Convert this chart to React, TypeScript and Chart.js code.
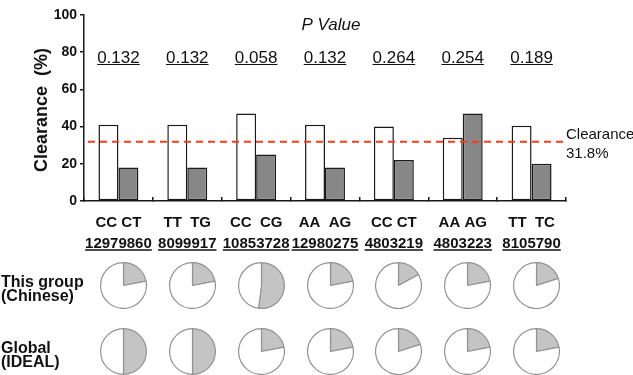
import React, { useEffect, useRef } from "react";
import { Chart, registerables } from "chart.js";

Chart.register(...registerables);

// SNP rs numbers, one group per SNP
const snpIds = ["12979860", "8099917", "10853728", "12980275", "4803219", "4803223", "8105790"];
// genotype pair for each SNP (homozygous / carrier)
const genotypePairs = ["CC CT", "TT  TG", "CC  CG", "AA  AG", "CC CT", "AA AG", "TT  TC"];
// P values shown above each group
const pValues = ["0.132", "0.132", "0.058", "0.132", "0.264", "0.254", "0.189"];
// clearance rate (%) for the first genotype (white bars)
const clearanceFirst = [41, 41, 47, 41, 40, 34, 40.5];
// clearance rate (%) for the second genotype (grey bars)
const clearanceSecond = [18, 18, 25, 18, 22, 47, 20];
// overall clearance rate (%)
const overallClearance = 31.8;
// y axis ticks
const yMin = 0;
const yMax = 100;
const yStep = 20;
// share (%) of the second genotype in this cohort and in the global cohort
const chineseShare = [22, 22, 52, 22, 17, 22, 20];
const globalShare = [50, 50, 22, 22, 20, 22, 22];
const pieRows = [
  { label: ["This group", "(Chinese)"], shares: chineseShare },
  { label: ["Global", "(IDEAL)"], shares: globalShare },
];

const FONT = "'Liberation Sans', Arial, Helvetica, sans-serif";
const INK = "#111111";
const W = 633;
const H = 375;
const PIE_SIZE = 47;
const PIE_ROW_Y = [285, 351];

function underlineText(ctx: CanvasRenderingContext2D, text: string, x: number, y: number, uy: number) {
  ctx.fillText(text, x, y);
  const w = ctx.measureText(text).width;
  ctx.beginPath();
  ctx.moveTo(x - w / 2, uy);
  ctx.lineTo(x + w / 2, uy);
  ctx.stroke();
}

const annotations = {
  id: "clearanceAnnotations",
  afterDraw(chart: any) {
    const { ctx, chartArea } = chart;
    const xs = chart.scales.x;
    const ys = chart.scales.y;
    ctx.save();

    // overall clearance reference line
    const yRef = ys.getPixelForValue(overallClearance);
    ctx.strokeStyle = "#ff3a1a";
    ctx.lineWidth = 2;
    ctx.setLineDash([7, 5]);
    ctx.beginPath();
    ctx.moveTo(chartArea.left + 4, yRef);
    ctx.lineTo(chartArea.right, yRef);
    ctx.stroke();
    ctx.setLineDash([]);

    ctx.fillStyle = INK;
    ctx.font = `15px ${FONT}`;
    ctx.textAlign = "left";
    ctx.textBaseline = "alphabetic";
    ctx.fillText("Clearance", chartArea.right, yRef - 3);
    ctx.fillText(`${overallClearance}%`, chartArea.right, yRef + 16);

    // P value header
    ctx.font = `italic 17px ${FONT}`;
    ctx.textAlign = "center";
    ctx.fillText("P Value", (chartArea.left + chartArea.right) / 2 + 6, 30);

    ctx.strokeStyle = INK;
    ctx.lineWidth = 1.2;
    ctx.font = `17px ${FONT}`;
    pValues.forEach((p, i) => {
      underlineText(ctx, p, xs.getPixelForValue(i), 62.5, 64.5);
    });

    // genotype and SNP labels under the axis
    ctx.font = `bold 15px ${FONT}`;
    genotypePairs.forEach((g, i) => {
      ctx.fillText(g, xs.getPixelForValue(i), 227);
    });
    ctx.lineWidth = 1.5;
    snpIds.forEach((s, i) => {
      underlineText(ctx, s, xs.getPixelForValue(i), 247.5, 250);
    });

    // y axis title
    ctx.save();
    ctx.translate(42, (chartArea.top + chartArea.bottom) / 2 + 2);
    ctx.rotate(-Math.PI / 2);
    ctx.font = `bold 18px ${FONT}`;
    ctx.textBaseline = "middle";
    ctx.fillText("Clearance  (%)", 0, 0);
    ctx.restore();

    // pie row labels
    ctx.font = `bold 16px ${FONT}`;
    ctx.textAlign = "left";
    ctx.textBaseline = "alphabetic";
    pieRows.forEach((row, r) => {
      ctx.fillText(row.label[0], 1, PIE_ROW_Y[r] + 1.5);
      ctx.fillText(row.label[1], 1, PIE_ROW_Y[r] + 15.5);
    });

    ctx.restore();
  },
};

export default function App() {
  const mainRef = useRef<HTMLCanvasElement | null>(null);
  const pieRefs = useRef<(HTMLCanvasElement | null)[]>([]);

  useEffect(() => {
    Chart.defaults.font.family = FONT;
    const charts: Chart[] = [];
    const main = new Chart(mainRef.current as HTMLCanvasElement, {
      type: "bar",
      data: {
        labels: snpIds,
        datasets: [
          {
            data: clearanceFirst,
            backgroundColor: "#ffffff",
            borderColor: "#1a1a1a",
            borderWidth: 1.5,
            borderSkipped: false,
          },
          {
            data: clearanceSecond,
            backgroundColor: "#878787",
            borderColor: "#1a1a1a",
            borderWidth: 1.5,
            borderSkipped: false,
          },
        ],
      },
      options: {
        responsive: false,
        animation: false,
        devicePixelRatio: 1,
        layout: { padding: { left: 0, top: 15, right: 67, bottom: 0 } },
        datasets: { bar: { categoryPercentage: 0.58, barPercentage: 1 } },
        plugins: { legend: { display: false }, tooltip: { enabled: false } },
        scales: {
          x: {
            grid: { offset: true, drawOnChartArea: false, tickLength: -4, color: "#1a1a1a", lineWidth: 1.5 },
            border: { color: "#1a1a1a", width: 1.5 },
            ticks: { display: false },
            afterFit: (s: any) => {
              s.height = 174;
            },
          },
          y: {
            min: yMin,
            max: yMax,
            ticks: { stepSize: yStep, color: INK, padding: 3, font: { size: 14, weight: "bold", family: FONT } },
            grid: { drawOnChartArea: false, tickLength: 4, color: "#1a1a1a", lineWidth: 1.5 },
            border: { color: "#1a1a1a", width: 1.5 },
            afterFit: (s: any) => {
              s.width = 84;
            },
          },
        },
      },
      plugins: [annotations],
    } as any);
    charts.push(main);

    const xs = main.scales.x;
    pieRows.forEach((row, r) => {
      row.shares.forEach((share, i) => {
        const cv = pieRefs.current[r * snpIds.length + i];
        if (!cv) return;
        const cx = xs.getPixelForValue(i) + 5;
        cv.style.left = `${cx - PIE_SIZE / 2}px`;
        cv.style.top = `${PIE_ROW_Y[r] - PIE_SIZE / 2}px`;
        charts.push(
          new Chart(cv, {
            type: "pie",
            data: {
              labels: ["second", "first"],
              datasets: [
                {
                  data: [share, 100 - share],
                  backgroundColor: ["#c4c4c4", "#ffffff"],
                  borderColor: "#939393",
                  borderWidth: 1.2,
                },
              ],
            },
            options: {
              responsive: false,
              animation: false,
              devicePixelRatio: 1,
              layout: { padding: 0 },
              plugins: { legend: { display: false }, tooltip: { enabled: false } },
            },
          } as any)
        );
      });
    });

    return () => charts.forEach((c) => c.destroy());
  }, []);

  return (
    <div style={{ position: "absolute", left: 0, top: 0, width: W, height: H, background: "#ffffff" }}>
      <canvas ref={mainRef} width={W} height={H} style={{ position: "absolute", left: 0, top: 0 }} />
      {pieRows.flatMap((row, r) =>
        row.shares.map((_, i) => (
          <canvas
            key={`${r}-${i}`}
            ref={(el) => {
              pieRefs.current[r * snpIds.length + i] = el;
            }}
            width={PIE_SIZE}
            height={PIE_SIZE}
            style={{ position: "absolute", left: 0, top: 0 }}
          />
        ))
      )}
    </div>
  );
}
